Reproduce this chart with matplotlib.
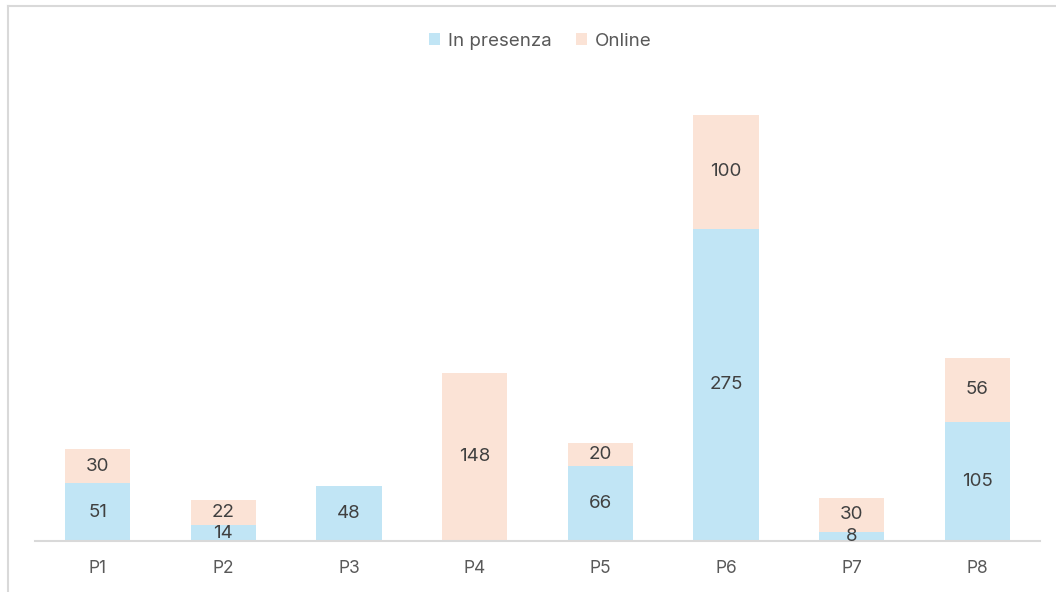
import matplotlib.pyplot as plt
from matplotlib.lines import Line2D
import numpy as np

categories = ["P1", "P2", "P3", "P4", "P5", "P6", "P7", "P8"]
in_presenza = [51, 14, 48, 0, 66, 275, 8, 105]
online = [30, 22, 0, 148, 20, 100, 30, 56]

blue = "#C1E5F5"
peach = "#FBE3D6"
text_col = "#404040"
tick_col = "#595959"

plt.rcParams["font.family"] = ["Inter", "DejaVu Sans"]

fig = plt.figure(figsize=(10.56, 5.92), dpi=100)
W, H = 1056, 592
ax = fig.add_axes([35 / W, (H - 541) / H, (1040 - 35) / W, 454.4 / H])

x = np.arange(len(categories))
b1 = ax.bar(x, in_presenza, width=0.52, color=blue, label="In presenza")
b2 = ax.bar(x, online, width=0.52, bottom=in_presenza, color=peach, label="Online")

for i in range(len(categories)):
    if in_presenza[i] > 0:
        ax.text(x[i], in_presenza[i] / 2, str(in_presenza[i]), ha="center", va="center",
                fontsize=13.5, color=text_col)
    if online[i] > 0:
        ax.text(x[i], in_presenza[i] + online[i] / 2, str(online[i]), ha="center", va="center",
                fontsize=13.5, color=text_col)

ax.set_xlim(-0.5, len(categories) - 0.5)
ax.set_ylim(0, 400)
ax.set_xticks(x)
ax.set_xticklabels(categories, fontsize=12.5, color=tick_col)
ax.tick_params(axis="x", length=0, pad=14)
ax.set_yticks([])
for s in ["top", "right", "left"]:
    ax.spines[s].set_visible(False)
ax.spines["bottom"].set_color("#D9D9D9")
ax.spines["bottom"].set_linewidth(1.5)

fig.legend(handles=[b1, b2], loc="center", bbox_to_anchor=(540 / W, 1 - 41 / H), ncol=2,
           frameon=False, fontsize=13.5, handlelength=0.6, handleheight=0.6,
           handletextpad=0.4, columnspacing=1.3, labelcolor=tick_col)

# outer frame (top and left edges)
fig.add_artist(Line2D([8 / W, 1], [1 - 6 / H, 1 - 6 / H], color="#D9D9D9", lw=1.5))
fig.add_artist(Line2D([8 / W, 8 / W], [0, 1 - 6 / H], color="#D9D9D9", lw=1.5))

fig.savefig("out.png", dpi=100)
